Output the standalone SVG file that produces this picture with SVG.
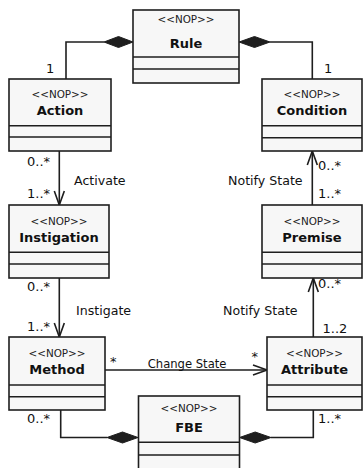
<svg xmlns="http://www.w3.org/2000/svg" width="363" height="468" viewBox="0 0 363 468">
<style>
.box{fill:#f7f7f7;stroke:#1e1e1e;stroke-width:1.6}
.div{stroke:#1e1e1e;stroke-width:1.4}
.st{font-family:"DejaVu Sans",Verdana,sans-serif;font-size:10.4px;fill:#222;text-anchor:middle}
.nm{font-family:"DejaVu Sans",Verdana,sans-serif;font-size:13px;font-weight:bold;fill:#111;text-anchor:middle}
.lb{font-family:"DejaVu Sans",Verdana,sans-serif;font-size:12.6px;fill:#111}
.mu{font-family:"DejaVu Sans",Verdana,sans-serif;font-size:13px;fill:#111}
.ln{fill:none;stroke:#1e1e1e;stroke-width:1.6}
.dm{fill:#1e1e1e;stroke:#1e1e1e;stroke-width:1}
</style>
<defs>
<marker id="open" viewBox="0 0 16 12" refX="15" refY="6" markerWidth="16" markerHeight="12" markerUnits="userSpaceOnUse" orient="auto">
<path d="M1,1 L15,6 L1,11" fill="none" stroke="#1e1e1e" stroke-width="1.6"/>
</marker>
</defs>
<g id="connectors">
<polyline class="ln" points="66,79 66,42 104,42"/>
<polygon class="dm" points="104,42 118.5,36.5 133,42 118.5,47.5"/>
<polyline class="ln" points="270,42 312.3,42 312.3,79"/>
<polygon class="dm" points="239,42 254.5,36.5 270,42 254.5,47.5"/>
<line class="ln" x1="59.3" y1="151" x2="59.3" y2="205" marker-end="url(#open)"/>
<line class="ln" x1="312.3" y1="205" x2="312.3" y2="151" marker-end="url(#open)"/>
<line class="ln" x1="59.3" y1="278" x2="59.3" y2="337" marker-end="url(#open)"/>
<line class="ln" x1="313.3" y1="337" x2="313.3" y2="278" marker-end="url(#open)"/>
<line class="ln" x1="105" y1="370" x2="267" y2="370" marker-end="url(#open)"/>
<polyline class="ln" points="60.7,410 60.7,437.5 107,437.5"/>
<polygon class="dm" points="107,437.5 122.5,432 138,437.5 122.5,443"/>
<polyline class="ln" points="313.3,410 313.3,437.5 271,437.5"/>
<polygon class="dm" points="239.5,437.5 255.2,432 271,437.5 255.2,443"/>
<text class="mu" x="46" y="72.5">1</text>
<text class="mu" x="324" y="72.5">1</text>
<text class="mu" x="27" y="166">0..*</text>
<text class="lb" x="74" y="184.5">Activate</text>
<text class="mu" x="27" y="198">1..*</text>
<text class="lb" x="228" y="184.5">Notify State</text>
<text class="mu" x="318" y="169.5">0..*</text>
<text class="mu" x="318" y="198">1..*</text>
<text class="mu" x="27" y="291">0..*</text>
<text class="mu" x="318" y="288">0..*</text>
<text class="lb" x="76" y="314.5">Instigate</text>
<text class="lb" x="223" y="314.5">Notify State</text>
<text class="mu" x="27" y="331">1..*</text>
<text class="mu" x="322.5" y="333">1..2</text>
<text class="mu" x="110" y="366">*</text>
<text class="mu" x="251.5" y="361">*</text>
<text class="lb" x="147.7" y="367.5" style="font-size:11.6px">Change State</text>
<text class="mu" x="27" y="423">0..*</text>
<text class="mu" x="318" y="423">1..*</text>
</g>
<g id="rule">
<rect class="box" x="133" y="10" width="106" height="73"/>
<line class="div" x1="133" y1="57" x2="239" y2="57"/>
<line class="div" x1="133" y1="69" x2="239" y2="69"/>
<text class="st" x="186" y="23">&lt;&lt;NOP&gt;&gt;</text>
<text class="nm" x="186" y="47.5">Rule</text>
</g>
<g id="action">
<rect class="box" x="9" y="79" width="102" height="72"/>
<line class="div" x1="9" y1="125.7" x2="111" y2="125.7"/>
<line class="div" x1="9" y1="137" x2="111" y2="137"/>
<text class="st" x="60" y="97.5">&lt;&lt;NOP&gt;&gt;</text>
<text class="nm" x="60" y="114.5">Action</text>
</g>
<g id="condition">
<rect class="box" x="262" y="79" width="100" height="72"/>
<line class="div" x1="262" y1="125.7" x2="362" y2="125.7"/>
<line class="div" x1="262" y1="137.7" x2="362" y2="137.7"/>
<text class="st" x="312" y="97.5">&lt;&lt;NOP&gt;&gt;</text>
<text class="nm" x="312" y="114.5">Condition</text>
</g>
<g id="instigation">
<rect class="box" x="9" y="205" width="100" height="73"/>
<line class="div" x1="9" y1="252.3" x2="109" y2="252.3"/>
<line class="div" x1="9" y1="264" x2="109" y2="264"/>
<text class="st" x="59" y="224.5">&lt;&lt;NOP&gt;&gt;</text>
<text class="nm" x="59" y="242">Instigation</text>
</g>
<g id="premise">
<rect class="box" x="262" y="205" width="100" height="73"/>
<line class="div" x1="262" y1="252.3" x2="362" y2="252.3"/>
<line class="div" x1="262" y1="264" x2="362" y2="264"/>
<text class="st" x="312" y="224.5">&lt;&lt;NOP&gt;&gt;</text>
<text class="nm" x="312" y="242">Premise</text>
</g>
<g id="method">
<rect class="box" x="9" y="337" width="96" height="73"/>
<line class="div" x1="9" y1="385" x2="105" y2="385"/>
<line class="div" x1="9" y1="396.7" x2="105" y2="396.7"/>
<text class="st" x="57" y="357">&lt;&lt;NOP&gt;&gt;</text>
<text class="nm" x="57" y="373.5">Method</text>
</g>
<g id="attribute">
<rect class="box" x="267" y="337" width="95" height="73"/>
<line class="div" x1="267" y1="385" x2="362" y2="385"/>
<line class="div" x1="267" y1="396.7" x2="362" y2="396.7"/>
<text class="st" x="314.5" y="357">&lt;&lt;NOP&gt;&gt;</text>
<text class="nm" x="314.5" y="373.5">Attribute</text>
</g>
<g id="fbe">
<rect class="box" x="138.5" y="396" width="101" height="80"/>
<line class="div" x1="138.5" y1="442.3" x2="239.5" y2="442.3"/>
<line class="div" x1="138.5" y1="455" x2="239.5" y2="455"/>
<text class="st" x="189" y="412">&lt;&lt;NOP&gt;&gt;</text>
<text class="nm" x="189" y="432">FBE</text>
</g>
</svg>
